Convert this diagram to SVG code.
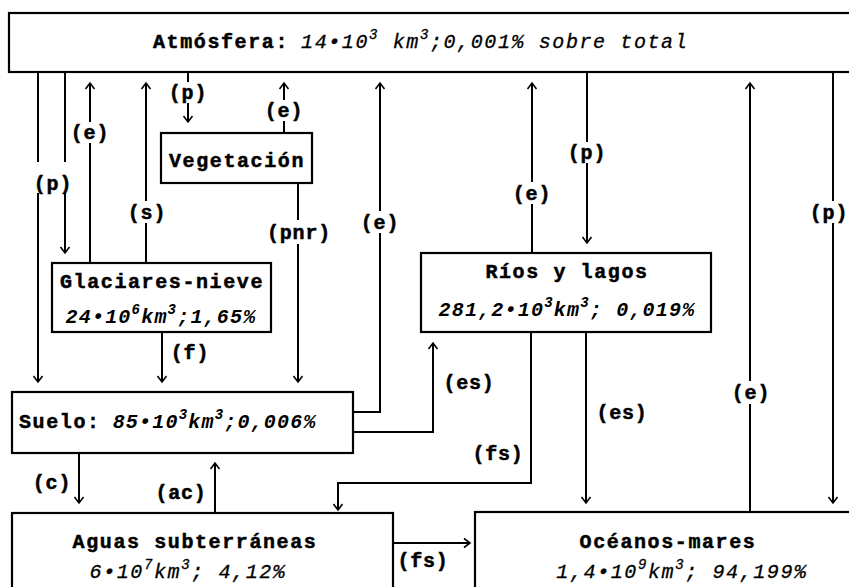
<svg xmlns="http://www.w3.org/2000/svg" width="849" height="587" viewBox="0 0 849 587">
<style>
.box{fill:#fff;stroke:#000;stroke-width:2.2}
.ln{fill:none;stroke:#000;stroke-width:2}
.ar{marker-end:url(#ah)}
text{font-family:"Liberation Mono","Courier New",monospace;fill:#000}
.t{font-size:20px;font-weight:bold;letter-spacing:1.6px;stroke:#000;stroke-width:0.5px}
.v{font-size:20px;font-style:italic;font-weight:bold;letter-spacing:1.2px}
.vn{font-size:20px;font-style:italic;letter-spacing:1.6px;stroke:#000;stroke-width:0.3px}
.lb{font-size:20px;font-weight:bold;letter-spacing:0.8px;text-anchor:middle;stroke:#000;stroke-width:0.5px}
.m{text-anchor:middle}
.s{font-size:14px}
</style>
<defs>
<marker id="ah" viewBox="-8 -6 10 12" refX="0" refY="0" markerWidth="10" markerHeight="12" markerUnits="userSpaceOnUse" orient="auto">
<path d="M-6,-4.5 L0,0 L-6,4.5" fill="none" stroke="#000" stroke-width="1.6"/>
</marker>
</defs>
<rect width="849" height="587" fill="#fff"/>

<g id="connectors">
<path class="ln" d="M38,72 V162"/>
<path class="ln ar" d="M38,193 V382"/>
<path class="ln" d="M65,72 V162"/>
<path class="ln ar" d="M65,193 V253"/>
<path class="ln" d="M90,263 V143"/>
<path class="ln ar" d="M90,122 V83"/>
<path class="ln" d="M146,263 V223"/>
<path class="ln ar" d="M146,201 V83"/>
<path class="ln" d="M188,72 V82"/>
<path class="ln ar" d="M188,103 V122"/>
<path class="ln" d="M284,133 V121"/>
<path class="ln ar" d="M284,100 V83"/>
<path class="ln" d="M298,183 V220"/>
<path class="ln ar" d="M298,244 V382"/>
<path class="ln" d="M353,412 H380 V233"/>
<path class="ln ar" d="M380,211 V83"/>
<path class="ln ar" d="M353,432 H433 V343"/>
<path class="ln" d="M532,253 V204"/>
<path class="ln ar" d="M532,182 V83"/>
<path class="ln" d="M587,72 V142"/>
<path class="ln ar" d="M587,163 V243"/>
<path class="ln" d="M750,512 V404"/>
<path class="ln ar" d="M750,381 V83"/>
<path class="ln" d="M833,72 V201"/>
<path class="ln ar" d="M833,223 V503"/>
<path class="ln ar" d="M162,332 V382"/>
<path class="ln ar" d="M531,332 V483 H338 V510"/>
<path class="ln ar" d="M586,332 V503"/>
<path class="ln ar" d="M79,453 V503"/>
<path class="ln ar" d="M215,513 V463"/>
<path class="ln ar" d="M393,543 H470"/>
</g>

<g id="labels">
<text class="lb" x="90" y="139">(e)</text>
<text class="lb" x="53" y="190">(p)</text>
<text class="lb" x="147" y="219">(s)</text>
<text class="lb" x="188" y="99">(p)</text>
<text class="lb" x="284" y="117">(e)</text>
<text class="lb" x="299" y="239">(pnr)</text>
<text class="lb" x="380" y="229">(e)</text>
<text class="lb" x="532" y="200">(e)</text>
<text class="lb" x="587" y="159">(p)</text>
<text class="lb" x="829" y="219">(p)</text>
<text class="lb" x="751" y="399">(e)</text>
<text class="lb" x="190" y="359">(f)</text>
<text class="lb" x="469" y="389">(es)</text>
<text class="lb" x="622" y="419">(es)</text>
<text class="lb" x="498" y="460">(fs)</text>
<text class="lb" x="52" y="489">(c)</text>
<text class="lb" x="181" y="499">(ac)</text>
<text class="lb" x="423" y="567">(fs)</text>
</g>

<g id="atmosfera">
<rect class="box" x="9" y="13" width="850" height="59"/>
<text x="153" y="48"><tspan class="t">Atmósfera:</tspan><tspan class="vn" dx="12">14•10</tspan><tspan class="vn s" dy="-9">3</tspan><tspan class="vn" dy="9"> km</tspan><tspan class="vn s" dy="-9">3</tspan><tspan class="vn" dy="9">;0,001% sobre total</tspan></text>
</g>

<g id="vegetacion">
<rect class="box" x="161" y="133" width="151" height="50"/>
<text class="t m" x="237" y="167">Vegetación</text>
</g>

<g id="glaciares">
<rect class="box" x="52" y="263" width="219" height="69"/>
<text class="t m" x="162" y="288">Glaciares-nieve</text>
<text class="m" x="161" y="323"><tspan class="v">24•10</tspan><tspan class="v s" dy="-9">6</tspan><tspan class="v" dy="9">km</tspan><tspan class="v s" dy="-9">3</tspan><tspan class="v" dy="9">;1,65%</tspan></text>
</g>

<g id="rios">
<rect class="box" x="421" y="253" width="290" height="79"/>
<text class="t m" x="567" y="278">Ríos y lagos</text>
<text class="m" x="567" y="316"><tspan class="v">281,2•10</tspan><tspan class="v s" dy="-9">3</tspan><tspan class="v" dy="9">km</tspan><tspan class="v s" dy="-9">3</tspan><tspan class="v" dy="9">; 0,019%</tspan></text>
</g>

<g id="suelo">
<rect class="box" x="12" y="392" width="341" height="61"/>
<text x="19" y="428"><tspan class="t">Suelo:</tspan><tspan class="v" dx="12">85•10</tspan><tspan class="v s" dy="-9">3</tspan><tspan class="v" dy="9">km</tspan><tspan class="v s" dy="-9">3</tspan><tspan class="v" dy="9">;0,006%</tspan></text>
</g>

<g id="aguas">
<rect class="box" x="12" y="513" width="381" height="100"/>
<text class="t m" x="195" y="548">Aguas subterráneas</text>
<text class="m" x="188" y="578"><tspan class="vn">6•10</tspan><tspan class="vn s" dy="-9">7</tspan><tspan class="vn" dy="9">km</tspan><tspan class="vn s" dy="-9">3</tspan><tspan class="vn" dy="9">; 4,12%</tspan></text>
</g>

<g id="oceanos">
<rect class="box" x="475" y="512" width="400" height="100"/>
<text class="t m" x="668" y="548">Océanos-mares</text>
<text class="m" x="682" y="578"><tspan class="vn">1,4•10</tspan><tspan class="vn s" dy="-9">9</tspan><tspan class="vn" dy="9">km</tspan><tspan class="vn s" dy="-9">3</tspan><tspan class="vn" dy="9">; 94,199%</tspan></text>
</g>
</svg>
